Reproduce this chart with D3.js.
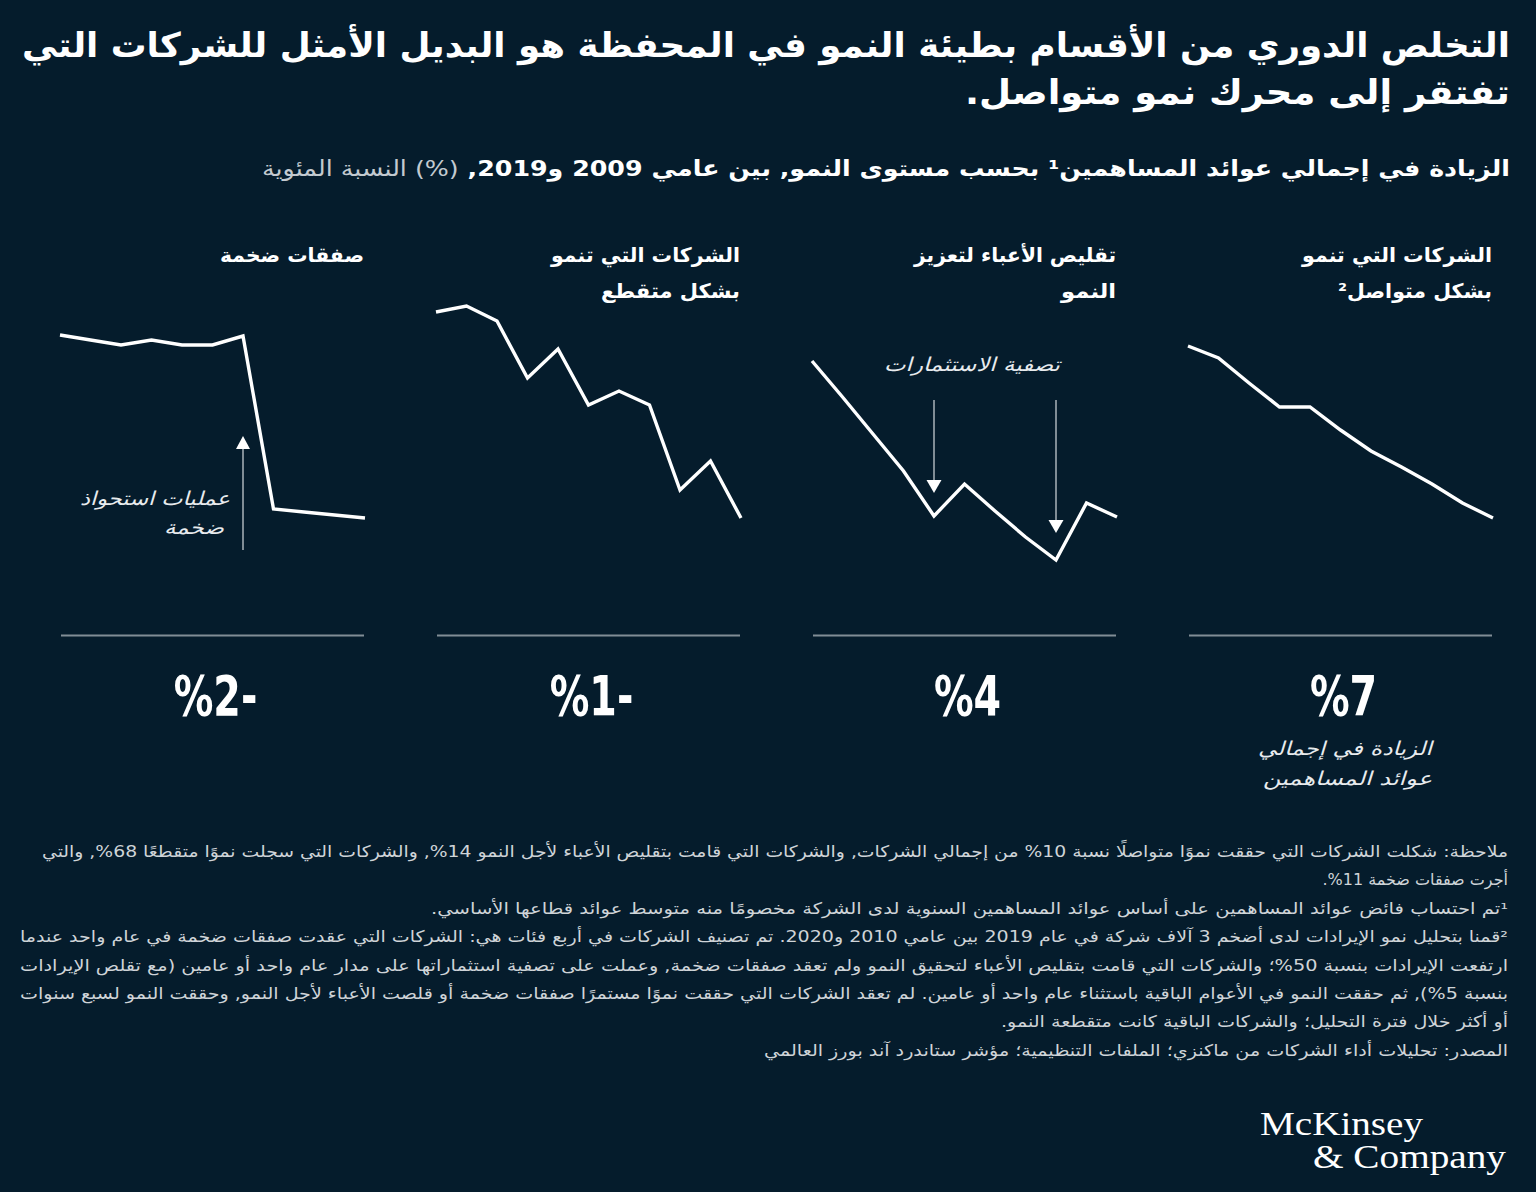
<!DOCTYPE html>
<html><head><meta charset="utf-8">
<script src="https://cdn.jsdelivr.net/npm/d3@7"></script>
<style>
html,body{margin:0;padding:0;background:#051c2c;}
svg{display:block;}
</style></head><body>
<svg id="chart" width="1536" height="1192"></svg>
<script>
// ---------- DATA ----------
const years = [2009, 2010, 2011, 2012, 2013, 2014, 2015, 2016, 2017, 2018, 2019];
// categories in reading order (right to left)
const categories = ["steady", "reset", "volatile", "bigDeals"];
const categoryHeaders = [
  ["الشركات التي تنمو", "بشكل متواصل²"],
  ["تقليص الأعباء لتعزيز", "النمو"],
  ["الشركات التي تنمو", "بشكل متقطع"],
  ["صفقات ضخمة"]
];
const tsrIncrease = [7, 4, -1, -2];
// indexed schematic paths (relative units)
const steadySeries   = [86, 80, 67.5, 55.5, 55.5, 44, 33.5, 25.5, 17, 7.5, 0];
const resetSeries    = [78.5, 60.5, 42, 23.5, 1, 17, 3.5, -9.5, -21, 7.5, 0.5];
const volatileSeries = [103, 106, 98.5, 70, 84.5, 56.5, 63.5, 56.5, 14, 28.5, 0];
const bigDealSeries  = [91.5, 89, 86.5, 89, 86.5, 86.5, 91, 4.5, 3, 1.5, 0];
const seriesList = [steadySeries, resetSeries, volatileSeries, bigDealSeries];

const titleLines = [
  "التخلص الدوري من الأقسام بطيئة النمو في المحفظة هو البديل الأمثل للشركات التي",
  "تفتقر إلى محرك نمو متواصل."
];
const subtitleBold = "الزيادة في إجمالي عوائد المساهمين¹ بحسب مستوى النمو, بين عامي 2009 و2019, ";
const subtitleLight = "(%) النسبة المئوية";
const bigDealNote = ["عمليات استحواذ", "ضخمة"];
const divestNote = "تصفية الاستثمارات";
const divestYears = [2013, 2017];
const bigDealYear = 2015;
const valueLabel = ["الزيادة في إجمالي", "عوائد المساهمين"];
const notes = [
  "ملاحظة: شكلت الشركات التي حققت نموًا متواصلًا نسبة 10% من إجمالي الشركات, والشركات التي قامت بتقليص الأعباء لأجل النمو 14%, والشركات التي سجلت نموًا متقطعًا 68%, والتي",
  "أجرت صفقات ضخمة 11%.",
  "¹تم احتساب فائض عوائد المساهمين على أساس عوائد المساهمين السنوية لدى الشركة مخصومًا منه متوسط عوائد قطاعها الأساسي.",
  "²قمنا بتحليل نمو الإيرادات لدى أضخم 3 آلاف شركة في عام 2019 بين عامي 2010 و2020. تم تصنيف الشركات في أربع فئات هي: الشركات التي عقدت صفقات ضخمة في عام واحد عندما",
  "ارتفعت الإيرادات بنسبة 50%؛ والشركات التي قامت بتقليص الأعباء لتحقيق النمو ولم تعقد صفقات ضخمة, وعملت على تصفية استثماراتها على مدار عام واحد أو عامين (مع تقلص الإيرادات",
  "بنسبة 5%), ثم حققت النمو في الأعوام الباقية باستثناء عام واحد أو عامين. لم تعقد الشركات التي حققت نموًا مستمرًا صفقات ضخمة أو قلصت الأعباء لأجل النمو, وحققت النمو لسبع سنوات",
  "أو أكثر خلال فترة التحليل؛ والشركات الباقية كانت متقطعة النمو.",
  "المصدر: تحليلات أداء الشركات من ماكنزي؛ الملفات التنظيمية؛ مؤشر ستاندرد آند بورز العالمي"
];
const noteWidths = [1466, null, 1077, 1488, 1488, 1488, 507, 744];

// ---------- LAYOUT ----------
const RIGHT = 1510;
const AR = "'DejaVu Sans', 'Noto Sans', sans-serif";
const svg = d3.select("#chart");

function rtl(parent, str, x, y, o) {
  const t = parent.append("text")
    .attr("x", x).attr("y", y)
    .attr("direction", "rtl")
    .attr("text-anchor", "start")
    .attr("font-family", AR)
    .attr("font-size", o.size)
    .attr("font-weight", o.weight || "normal")
    .attr("font-style", o.style || "normal")
    .attr("fill", o.fill || "#ffffff")
    .text(str);
  if (o.width) t.attr("textLength", o.width).attr("lengthAdjust", "spacingAndGlyphs");
  return t;
}

// title
rtl(svg, titleLines[0], RIGHT, 57, {size: 34, weight: "bold", width: 1488});
rtl(svg, titleLines[1], RIGHT, 104, {size: 34, weight: "bold", width: 545});

// subtitle
const sub = svg.append("text")
  .attr("x", RIGHT).attr("y", 176)
  .attr("direction", "rtl").attr("text-anchor", "start")
  .attr("font-family", AR).attr("font-size", 22)
  .attr("textLength", 1248).attr("lengthAdjust", "spacingAndGlyphs");
sub.append("tspan").attr("font-weight", "bold").attr("fill", "#ffffff").text(subtitleBold);
sub.append("tspan").attr("font-weight", "normal").attr("fill", "#c3cad0").text(subtitleLight);

// panels
const panelW = 305;
const panelRight = d3.scaleLinear().domain([0, 3]).range([1493, 365]);
const y = d3.scaleLinear().domain([0, 100]).range([518, 318]);

const headerWidths = [[190, 154], [202, 55], [189, 139], [144]];

categories.forEach((c, i) => {
  const r = panelRight(i), l = r - panelW;
  const x = d3.scaleLinear().domain([years[0], years[years.length - 1]]).range([l, r]);
  const g = svg.append("g").attr("class", "panel-" + c);

  categoryHeaders[i].forEach((h, j) => {
    rtl(g, h, r - 1, 262 + j * 36, {size: 20, weight: "bold", width: headerWidths[i][j]});
  });

  const line = d3.line().x((d, k) => x(years[k])).y(d => y(d));
  g.append("path")
    .datum(seriesList[i])
    .attr("d", line)
    .attr("fill", "none")
    .attr("stroke", "#ffffff")
    .attr("stroke-width", 3.4)
    .attr("stroke-linejoin", "miter");

  // baseline rule
  g.append("line")
    .attr("x1", l + 1).attr("x2", r - 1)
    .attr("y1", 635.5).attr("y2", 635.5)
    .attr("stroke", "#818d96").attr("stroke-width", 2);

  // big number (visual order as in reference)
  const v = tsrIncrease[i];
  const num = g.append("text")
    .attr("x", (l + r) / 2 + 3).attr("y", 715)
    .attr("text-anchor", "middle")
    .attr("font-family", "'DejaVu Sans Condensed', 'DejaVu Sans', sans-serif")
    .attr("font-stretch", "condensed")
    .attr("font-weight", "bold")
    .attr("font-size", 55)
    .attr("fill", "#ffffff")
    .text("%" + Math.abs(v) + (v < 0 ? "-" : ""));
  const nat = num.node().getComputedTextLength();
  num.attr("textLength", nat * 0.8).attr("lengthAdjust", "spacingAndGlyphs");

  // annotations
  if (c === "reset") {
    rtl(g, divestNote, 1060, 371, {size: 19, style: "italic", fill: "#e8ebee", width: 176});
    const tips = [493, 533];
    divestYears.forEach((yr, k) => {
      const ax = x(yr);
      g.append("line").attr("x1", ax).attr("x2", ax).attr("y1", 400).attr("y2", tips[k] - 12)
        .attr("stroke", "#aab3ba").attr("stroke-width", 1.5);
      g.append("path")
        .attr("d", `M${ax - 7.5},${tips[k] - 13}L${ax + 7.5},${tips[k] - 13}L${ax},${tips[k]}Z`)
        .attr("fill", "#ffffff");
    });
  }
  if (c === "bigDeals") {
    const ax = x(bigDealYear);
    g.append("line").attr("x1", ax).attr("x2", ax).attr("y1", 550).attr("y2", 449)
      .attr("stroke", "#aab3ba").attr("stroke-width", 1.5);
    g.append("path")
      .attr("d", `M${ax - 7},${449}L${ax + 7},${449}L${ax},${436}Z`)
      .attr("fill", "#ffffff");
    rtl(g, bigDealNote[0], 230, 505, {size: 19, style: "italic", fill: "#e8ebee", width: 150});
    rtl(g, bigDealNote[1], 224, 534, {size: 19, style: "italic", fill: "#e8ebee", width: 60});
  }
  if (c === "steady") {
    rtl(g, valueLabel[0], 1432, 755, {size: 19, style: "italic", fill: "#e8ebee", width: 174});
    rtl(g, valueLabel[1], 1432, 785, {size: 19, style: "italic", fill: "#e8ebee", width: 169});
  }
});

// footnotes
const ng = svg.append("g").attr("class", "notes");
notes.forEach((n, i) => {
  rtl(ng, n, 1508, 857 + i * 28.4, {size: 16, fill: "#cfd4d8", width: noteWidths[i]});
});

// logo
svg.append("text").attr("x", 1260).attr("y", 1135)
  .attr("font-family", "'Liberation Serif', 'DejaVu Serif', serif")
  .attr("font-size", 33).attr("fill", "#ffffff")
  .attr("textLength", 163).attr("lengthAdjust", "spacingAndGlyphs")
  .text("McKinsey");
svg.append("text").attr("x", 1506).attr("y", 1168)
  .attr("text-anchor", "end")
  .attr("font-family", "'Liberation Serif', 'DejaVu Serif', serif")
  .attr("font-size", 33).attr("fill", "#ffffff")
  .attr("textLength", 193).attr("lengthAdjust", "spacingAndGlyphs")
  .text("& Company");
</script>
</body></html>
